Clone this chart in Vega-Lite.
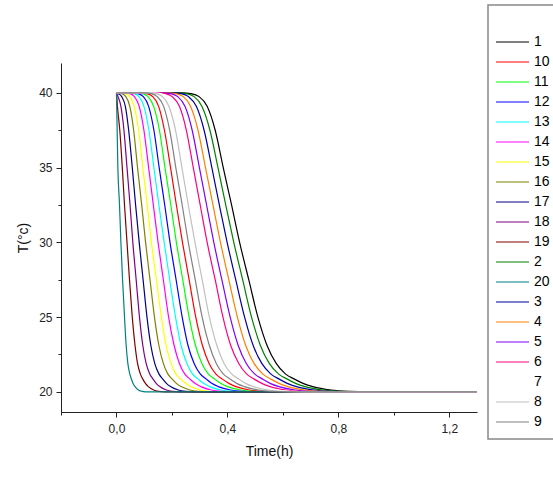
{
  "$schema": "https://vega.github.io/schema/vega-lite/v6.json",
  "autosize": {"type": "none"},
  "padding": {"left": 61, "top": 63, "right": 76, "bottom": 73},
  "width": 416,
  "height": 349,
  "background": "white",
  "config": {
    "view": {"stroke": null},
    "axis": {"grid": false, "domainColor": "#222", "tickColor": "#222", "labelColor": "#222", "titleColor": "#111", "labelFont": "Liberation Sans", "titleFont": "Liberation Sans", "labelFontSize": 12, "titleFontSize": 14, "titleFontWeight": "normal"}
  },
  "data": {"values": [
    {"s":"1","t":0,"T":40},{"s":"1","t":0.239,"T":40},{"s":"1","t":0.268,"T":39.95},{"s":"1","t":0.298,"T":39.75},{"s":"1","t":0.327,"T":39.1},{"s":"1","t":0.356,"T":37.5},{"s":"1","t":0.385,"T":35},{"s":"1","t":0.415,"T":32.5},{"s":"1","t":0.444,"T":30},{"s":"1","t":0.477,"T":27.5},{"s":"1","t":0.51,"T":25},{"s":"1","t":0.543,"T":23.1},{"s":"1","t":0.576,"T":21.9},{"s":"1","t":0.609,"T":21.2},{"s":"1","t":0.642,"T":20.85},{"s":"1","t":0.675,"T":20.55},{"s":"1","t":0.708,"T":20.35},{"s":"1","t":0.774,"T":20.12},{"s":"1","t":0.84,"T":20.03},{"s":"1","t":0.906,"T":20},{"s":"1","t":1.3,"T":20},
    {"s":"10","t":0,"T":40},{"s":"10","t":0.088,"T":40},{"s":"10","t":0.109,"T":39.95},{"s":"10","t":0.131,"T":39.75},{"s":"10","t":0.152,"T":39.1},{"s":"10","t":0.173,"T":37.5},{"s":"10","t":0.195,"T":35},{"s":"10","t":0.216,"T":32.5},{"s":"10","t":0.238,"T":30},{"s":"10","t":0.262,"T":27.5},{"s":"10","t":0.286,"T":25},{"s":"10","t":0.31,"T":23.1},{"s":"10","t":0.334,"T":21.9},{"s":"10","t":0.358,"T":21.2},{"s":"10","t":0.382,"T":20.85},{"s":"10","t":0.407,"T":20.55},{"s":"10","t":0.431,"T":20.35},{"s":"10","t":0.479,"T":20.12},{"s":"10","t":0.527,"T":20.03},{"s":"10","t":0.576,"T":20},{"s":"10","t":1.3,"T":20},
    {"s":"11","t":0,"T":40},{"s":"11","t":0.073,"T":40},{"s":"11","t":0.094,"T":39.95},{"s":"11","t":0.114,"T":39.75},{"s":"11","t":0.134,"T":39.1},{"s":"11","t":0.155,"T":37.5},{"s":"11","t":0.175,"T":35},{"s":"11","t":0.196,"T":32.5},{"s":"11","t":0.216,"T":30},{"s":"11","t":0.239,"T":27.5},{"s":"11","t":0.262,"T":25},{"s":"11","t":0.285,"T":23.1},{"s":"11","t":0.308,"T":21.9},{"s":"11","t":0.331,"T":21.2},{"s":"11","t":0.354,"T":20.85},{"s":"11","t":0.377,"T":20.55},{"s":"11","t":0.4,"T":20.35},{"s":"11","t":0.447,"T":20.12},{"s":"11","t":0.493,"T":20.03},{"s":"11","t":0.539,"T":20},{"s":"11","t":1.3,"T":20},
    {"s":"12","t":0,"T":40},{"s":"12","t":0.058,"T":40},{"s":"12","t":0.077,"T":39.95},{"s":"12","t":0.097,"T":39.75},{"s":"12","t":0.116,"T":39.1},{"s":"12","t":0.135,"T":37.5},{"s":"12","t":0.154,"T":35},{"s":"12","t":0.174,"T":32.5},{"s":"12","t":0.193,"T":30},{"s":"12","t":0.215,"T":27.5},{"s":"12","t":0.237,"T":25},{"s":"12","t":0.258,"T":23.1},{"s":"12","t":0.28,"T":21.9},{"s":"12","t":0.302,"T":21.2},{"s":"12","t":0.324,"T":20.85},{"s":"12","t":0.345,"T":20.55},{"s":"12","t":0.367,"T":20.35},{"s":"12","t":0.411,"T":20.12},{"s":"12","t":0.454,"T":20.03},{"s":"12","t":0.498,"T":20},{"s":"12","t":1.3,"T":20},
    {"s":"13","t":0,"T":40},{"s":"13","t":0.044,"T":40},{"s":"13","t":0.062,"T":39.95},{"s":"13","t":0.081,"T":39.75},{"s":"13","t":0.099,"T":39.1},{"s":"13","t":0.117,"T":37.5},{"s":"13","t":0.135,"T":35},{"s":"13","t":0.153,"T":32.5},{"s":"13","t":0.172,"T":30},{"s":"13","t":0.192,"T":27.5},{"s":"13","t":0.213,"T":25},{"s":"13","t":0.233,"T":23.1},{"s":"13","t":0.254,"T":21.9},{"s":"13","t":0.274,"T":21.2},{"s":"13","t":0.295,"T":20.85},{"s":"13","t":0.315,"T":20.55},{"s":"13","t":0.336,"T":20.35},{"s":"13","t":0.377,"T":20.12},{"s":"13","t":0.418,"T":20.03},{"s":"13","t":0.459,"T":20},{"s":"13","t":1.3,"T":20},
    {"s":"14","t":0,"T":40},{"s":"14","t":0.031,"T":40},{"s":"14","t":0.048,"T":39.95},{"s":"14","t":0.065,"T":39.75},{"s":"14","t":0.082,"T":39.1},{"s":"14","t":0.099,"T":37.5},{"s":"14","t":0.116,"T":35},{"s":"14","t":0.133,"T":32.5},{"s":"14","t":0.15,"T":30},{"s":"14","t":0.169,"T":27.5},{"s":"14","t":0.188,"T":25},{"s":"14","t":0.208,"T":23.1},{"s":"14","t":0.227,"T":21.9},{"s":"14","t":0.246,"T":21.2},{"s":"14","t":0.265,"T":20.85},{"s":"14","t":0.284,"T":20.55},{"s":"14","t":0.304,"T":20.35},{"s":"14","t":0.342,"T":20.12},{"s":"14","t":0.38,"T":20.03},{"s":"14","t":0.419,"T":20},{"s":"14","t":1.3,"T":20},
    {"s":"15","t":0,"T":40},{"s":"15","t":0.017,"T":40},{"s":"15","t":0.033,"T":39.95},{"s":"15","t":0.048,"T":39.75},{"s":"15","t":0.064,"T":39.1},{"s":"15","t":0.08,"T":37.5},{"s":"15","t":0.095,"T":35},{"s":"15","t":0.111,"T":32.5},{"s":"15","t":0.126,"T":30},{"s":"15","t":0.144,"T":27.5},{"s":"15","t":0.162,"T":25},{"s":"15","t":0.179,"T":23.1},{"s":"15","t":0.197,"T":21.9},{"s":"15","t":0.214,"T":21.2},{"s":"15","t":0.232,"T":20.85},{"s":"15","t":0.25,"T":20.55},{"s":"15","t":0.267,"T":20.35},{"s":"15","t":0.302,"T":20.12},{"s":"15","t":0.338,"T":20.03},{"s":"15","t":0.373,"T":20},{"s":"15","t":1.3,"T":20},
    {"s":"16","t":0,"T":40},{"s":"16","t":0.005,"T":40},{"s":"16","t":0.019,"T":39.95},{"s":"16","t":0.034,"T":39.75},{"s":"16","t":0.048,"T":39.1},{"s":"16","t":0.062,"T":37.5},{"s":"16","t":0.076,"T":35},{"s":"16","t":0.091,"T":32.5},{"s":"16","t":0.105,"T":30},{"s":"16","t":0.121,"T":27.5},{"s":"16","t":0.137,"T":25},{"s":"16","t":0.153,"T":23.1},{"s":"16","t":0.169,"T":21.9},{"s":"16","t":0.185,"T":21.2},{"s":"16","t":0.201,"T":20.85},{"s":"16","t":0.217,"T":20.55},{"s":"16","t":0.233,"T":20.35},{"s":"16","t":0.265,"T":20.12},{"s":"16","t":0.297,"T":20.03},{"s":"16","t":0.33,"T":20},{"s":"16","t":1.3,"T":20},
    {"s":"17","t":0,"T":40},{"s":"17","t":0.0065,"T":39.95},{"s":"17","t":0.019,"T":39.75},{"s":"17","t":0.032,"T":39.1},{"s":"17","t":0.044,"T":37.5},{"s":"17","t":0.057,"T":35},{"s":"17","t":0.069,"T":32.5},{"s":"17","t":0.082,"T":30},{"s":"17","t":0.096,"T":27.5},{"s":"17","t":0.11,"T":25},{"s":"17","t":0.124,"T":23.1},{"s":"17","t":0.138,"T":21.9},{"s":"17","t":0.153,"T":21.2},{"s":"17","t":0.167,"T":20.85},{"s":"17","t":0.181,"T":20.55},{"s":"17","t":0.195,"T":20.35},{"s":"17","t":0.223,"T":20.12},{"s":"17","t":0.252,"T":20.03},{"s":"17","t":0.28,"T":20},{"s":"17","t":1.3,"T":20},
    {"s":"18","t":0,"T":40},{"s":"18","t":0.0057,"T":39.75},{"s":"18","t":0.016,"T":39.1},{"s":"18","t":0.027,"T":37.5},{"s":"18","t":0.038,"T":35},{"s":"18","t":0.049,"T":32.5},{"s":"18","t":0.059,"T":30},{"s":"18","t":0.071,"T":27.5},{"s":"18","t":0.083,"T":25},{"s":"18","t":0.095,"T":23.1},{"s":"18","t":0.107,"T":21.9},{"s":"18","t":0.12,"T":21.2},{"s":"18","t":0.132,"T":20.85},{"s":"18","t":0.144,"T":20.55},{"s":"18","t":0.156,"T":20.35},{"s":"18","t":0.18,"T":20.12},{"s":"18","t":0.204,"T":20.03},{"s":"18","t":0.228,"T":20},{"s":"18","t":1.3,"T":20},
    {"s":"19","t":0,"T":40},{"s":"19","t":0.0035,"T":39.1},{"s":"19","t":0.012,"T":37.5},{"s":"19","t":0.021,"T":35},{"s":"19","t":0.029,"T":32.5},{"s":"19","t":0.038,"T":30},{"s":"19","t":0.047,"T":27.5},{"s":"19","t":0.057,"T":25},{"s":"19","t":0.067,"T":23.1},{"s":"19","t":0.076,"T":21.9},{"s":"19","t":0.086,"T":21.2},{"s":"19","t":0.095,"T":20.85},{"s":"19","t":0.105,"T":20.55},{"s":"19","t":0.115,"T":20.35},{"s":"19","t":0.134,"T":20.12},{"s":"19","t":0.153,"T":20.03},{"s":"19","t":0.172,"T":20},{"s":"19","t":1.3,"T":20},
    {"s":"2","t":0,"T":40},{"s":"2","t":0.223,"T":40},{"s":"2","t":0.251,"T":39.95},{"s":"2","t":0.28,"T":39.75},{"s":"2","t":0.308,"T":39.1},{"s":"2","t":0.337,"T":37.5},{"s":"2","t":0.366,"T":35},{"s":"2","t":0.394,"T":32.5},{"s":"2","t":0.423,"T":30},{"s":"2","t":0.455,"T":27.5},{"s":"2","t":0.487,"T":25},{"s":"2","t":0.519,"T":23.1},{"s":"2","t":0.551,"T":21.9},{"s":"2","t":0.584,"T":21.2},{"s":"2","t":0.616,"T":20.85},{"s":"2","t":0.648,"T":20.55},{"s":"2","t":0.68,"T":20.35},{"s":"2","t":0.745,"T":20.12},{"s":"2","t":0.809,"T":20.03},{"s":"2","t":0.873,"T":20},{"s":"2","t":1.3,"T":20},
    {"s":"20","t":0,"T":40},{"s":"20","t":0.005,"T":35},{"s":"20","t":0.011,"T":32.5},{"s":"20","t":0.016,"T":30},{"s":"20","t":0.022,"T":27.5},{"s":"20","t":0.029,"T":25},{"s":"20","t":0.035,"T":23.1},{"s":"20","t":0.041,"T":21.9},{"s":"20","t":0.048,"T":21.2},{"s":"20","t":0.054,"T":20.85},{"s":"20","t":0.06,"T":20.55},{"s":"20","t":0.067,"T":20.35},{"s":"20","t":0.079,"T":20.12},{"s":"20","t":0.092,"T":20.03},{"s":"20","t":0.104,"T":20},{"s":"20","t":1.3,"T":20},
    {"s":"3","t":0,"T":40},{"s":"3","t":0.205,"T":40},{"s":"3","t":0.233,"T":39.95},{"s":"3","t":0.26,"T":39.75},{"s":"3","t":0.288,"T":39.1},{"s":"3","t":0.316,"T":37.5},{"s":"3","t":0.344,"T":35},{"s":"3","t":0.371,"T":32.5},{"s":"3","t":0.399,"T":30},{"s":"3","t":0.43,"T":27.5},{"s":"3","t":0.462,"T":25},{"s":"3","t":0.493,"T":23.1},{"s":"3","t":0.524,"T":21.9},{"s":"3","t":0.556,"T":21.2},{"s":"3","t":0.587,"T":20.85},{"s":"3","t":0.618,"T":20.55},{"s":"3","t":0.649,"T":20.35},{"s":"3","t":0.712,"T":20.12},{"s":"3","t":0.775,"T":20.03},{"s":"3","t":0.837,"T":20},{"s":"3","t":1.3,"T":20},
    {"s":"4","t":0,"T":40},{"s":"4","t":0.187,"T":40},{"s":"4","t":0.214,"T":39.95},{"s":"4","t":0.241,"T":39.75},{"s":"4","t":0.267,"T":39.1},{"s":"4","t":0.294,"T":37.5},{"s":"4","t":0.321,"T":35},{"s":"4","t":0.348,"T":32.5},{"s":"4","t":0.375,"T":30},{"s":"4","t":0.405,"T":27.5},{"s":"4","t":0.436,"T":25},{"s":"4","t":0.466,"T":23.1},{"s":"4","t":0.496,"T":21.9},{"s":"4","t":0.527,"T":21.2},{"s":"4","t":0.557,"T":20.85},{"s":"4","t":0.588,"T":20.55},{"s":"4","t":0.618,"T":20.35},{"s":"4","t":0.679,"T":20.12},{"s":"4","t":0.739,"T":20.03},{"s":"4","t":0.8,"T":20},{"s":"4","t":1.3,"T":20},
    {"s":"5","t":0,"T":40},{"s":"5","t":0.168,"T":40},{"s":"5","t":0.195,"T":39.95},{"s":"5","t":0.221,"T":39.75},{"s":"5","t":0.247,"T":39.1},{"s":"5","t":0.273,"T":37.5},{"s":"5","t":0.299,"T":35},{"s":"5","t":0.325,"T":32.5},{"s":"5","t":0.351,"T":30},{"s":"5","t":0.38,"T":27.5},{"s":"5","t":0.41,"T":25},{"s":"5","t":0.439,"T":23.1},{"s":"5","t":0.468,"T":21.9},{"s":"5","t":0.498,"T":21.2},{"s":"5","t":0.527,"T":20.85},{"s":"5","t":0.556,"T":20.55},{"s":"5","t":0.586,"T":20.35},{"s":"5","t":0.644,"T":20.12},{"s":"5","t":0.703,"T":20.03},{"s":"5","t":0.762,"T":20},{"s":"5","t":1.3,"T":20},
    {"s":"6","t":0,"T":40},{"s":"6","t":0.151,"T":40},{"s":"6","t":0.176,"T":39.95},{"s":"6","t":0.201,"T":39.75},{"s":"6","t":0.227,"T":39.1},{"s":"6","t":0.252,"T":37.5},{"s":"6","t":0.277,"T":35},{"s":"6","t":0.302,"T":32.5},{"s":"6","t":0.327,"T":30},{"s":"6","t":0.356,"T":27.5},{"s":"6","t":0.384,"T":25},{"s":"6","t":0.412,"T":23.1},{"s":"6","t":0.441,"T":21.9},{"s":"6","t":0.469,"T":21.2},{"s":"6","t":0.497,"T":20.85},{"s":"6","t":0.526,"T":20.55},{"s":"6","t":0.554,"T":20.35},{"s":"6","t":0.611,"T":20.12},{"s":"6","t":0.667,"T":20.03},{"s":"6","t":0.724,"T":20},{"s":"6","t":1.3,"T":20},
    {"s":"7","t":0,"T":40},{"s":"7","t":0.136,"T":40},{"s":"7","t":0.16,"T":39.95},{"s":"7","t":0.184,"T":39.75},{"s":"7","t":0.208,"T":39.1},{"s":"7","t":0.233,"T":37.5},{"s":"7","t":0.257,"T":35},{"s":"7","t":0.281,"T":32.5},{"s":"7","t":0.306,"T":30},{"s":"7","t":0.333,"T":27.5},{"s":"7","t":0.36,"T":25},{"s":"7","t":0.388,"T":23.1},{"s":"7","t":0.415,"T":21.9},{"s":"7","t":0.443,"T":21.2},{"s":"7","t":0.47,"T":20.85},{"s":"7","t":0.497,"T":20.55},{"s":"7","t":0.525,"T":20.35},{"s":"7","t":0.58,"T":20.12},{"s":"7","t":0.634,"T":20.03},{"s":"7","t":0.689,"T":20},{"s":"7","t":1.3,"T":20},
    {"s":"8","t":0,"T":40},{"s":"8","t":0.119,"T":40},{"s":"8","t":0.143,"T":39.95},{"s":"8","t":0.166,"T":39.75},{"s":"8","t":0.189,"T":39.1},{"s":"8","t":0.213,"T":37.5},{"s":"8","t":0.236,"T":35},{"s":"8","t":0.259,"T":32.5},{"s":"8","t":0.283,"T":30},{"s":"8","t":0.309,"T":27.5},{"s":"8","t":0.335,"T":25},{"s":"8","t":0.362,"T":23.1},{"s":"8","t":0.388,"T":21.9},{"s":"8","t":0.415,"T":21.2},{"s":"8","t":0.441,"T":20.85},{"s":"8","t":0.467,"T":20.55},{"s":"8","t":0.494,"T":20.35},{"s":"8","t":0.546,"T":20.12},{"s":"8","t":0.599,"T":20.03},{"s":"8","t":0.652,"T":20},{"s":"8","t":1.3,"T":20},
    {"s":"9","t":0,"T":40},{"s":"9","t":0.103,"T":40},{"s":"9","t":0.125,"T":39.95},{"s":"9","t":0.147,"T":39.75},{"s":"9","t":0.17,"T":39.1},{"s":"9","t":0.192,"T":37.5},{"s":"9","t":0.214,"T":35},{"s":"9","t":0.237,"T":32.5},{"s":"9","t":0.259,"T":30},{"s":"9","t":0.284,"T":27.5},{"s":"9","t":0.309,"T":25},{"s":"9","t":0.335,"T":23.1},{"s":"9","t":0.36,"T":21.9},{"s":"9","t":0.385,"T":21.2},{"s":"9","t":0.41,"T":20.85},{"s":"9","t":0.435,"T":20.55},{"s":"9","t":0.461,"T":20.35},{"s":"9","t":0.511,"T":20.12},{"s":"9","t":0.561,"T":20.03},{"s":"9","t":0.612,"T":20},{"s":"9","t":1.3,"T":20}
  ]},
  "mark": {"type": "line", "interpolate": "monotone", "strokeWidth": 1.2, "clip": true},
  "encoding": {
    "x": {"field": "t", "type": "quantitative",
      "scale": {"domain": [-0.2, 1.3], "nice": false, "zero": false},
      "axis": {"title": "Time(h)", "values": [-0.2, 0, 0.2, 0.4, 0.6, 0.8, 1.0, 1.2],
        "labelExpr": "abs(round(datum.value*10)) % 4 == 0 ? replace(format(datum.value, '.1f'), '.', ',') : ''",
        "tickSize": {"condition": {"test": "abs(round(datum.value*10)) % 4 != 0", "value": 3}, "value": 5},
        "labelPadding": 6, "titlePadding": 10, "labelFlush": false}},
    "y": {"field": "T", "type": "quantitative",
      "scale": {"domain": [18.65, 42], "nice": false, "zero": false},
      "axis": {"title": "T(°c)", "values": [20, 22.5, 25, 27.5, 30, 32.5, 35, 37.5, 40],
        "labelExpr": "datum.value % 5 == 0 ? datum.label : ''",
        "tickSize": {"condition": {"test": "datum.value % 5 != 0", "value": 3}, "value": 5},
        "labelPadding": 4, "titlePadding": 8}},
    "color": {"field": "s", "type": "nominal",
      "scale": {"domain": ["1","10","11","12","13","14","15","16","17","18","19","2","20","3","4","5","6","7","8","9"],
        "range": ["#000000","#FF0000","#00FF00","#0000FF","#00FFFF","#FF00FF","#FFFF00","#808000","#000080","#800080","#800000","#008000","#008080","#0000A0","#FF8000","#8000FF","#FF0080","#FFFFFF","#C0C0C0","#808080"]},
      "legend": {"orient": "none", "legendX": 427, "legendY": -58, "title": "                         ", "titleFontSize": 14, "titlePadding": 6,
        "padding": 7, "strokeColor": "#888", "symbolType": "stroke", "symbolSize": 1089, "symbolStrokeWidth": 1.2,
        "clipHeight": 20, "rowPadding": 0, "labelFontSize": 14, "labelFont": "Liberation Sans", "labelColor": "#000", "labelOffset": 4,
        "encode": {"legend": {"update": {"strokeWidth": {"value": 1.5}}}}}}
  }
}
